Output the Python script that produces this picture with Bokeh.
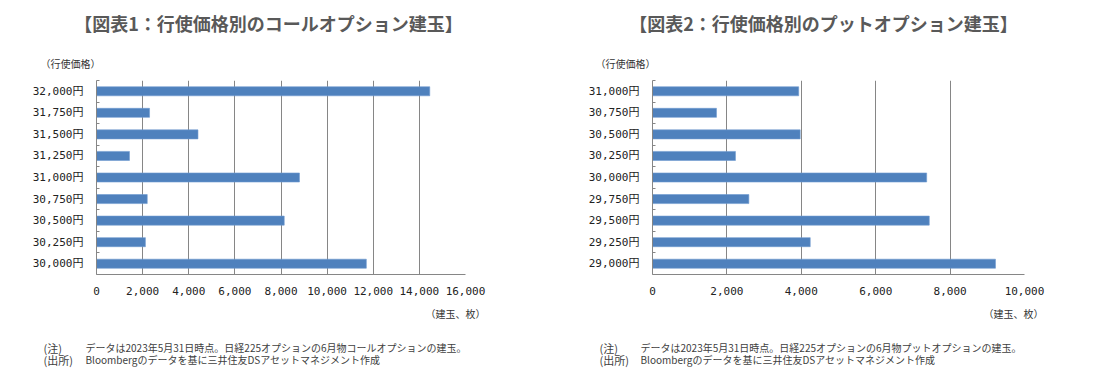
from bokeh.plotting import figure
from bokeh.models import FixedTicker, NumeralTickFormatter, Range1d
from bokeh.layouts import row, column
from bokeh.core.properties import value
from bokeh.embed import file_html
from bokeh.resources import INLINE

# ---- data (bottom to top) ----
call_strikes = ["30,000円", "30,250円", "30,500円", "30,750円", "31,000円",
                "31,250円", "31,500円", "31,750円", "32,000円"]
call_oi = [11700, 2120, 8140, 2200, 8800, 1430, 4400, 2300, 14450]
call_x_ticks = [0, 2000, 4000, 6000, 8000, 10000, 12000, 14000, 16000]

put_strikes = ["29,000円", "29,250円", "29,500円", "29,750円", "30,000円",
               "30,250円", "30,500円", "30,750円", "31,000円"]
put_oi = [9220, 4240, 7440, 2590, 7370, 2230, 3970, 1720, 3930]
put_x_ticks = [0, 2000, 4000, 6000, 8000, 10000]

titles = ["【図表1：行使価格別のコールオプション建玉】",
          "【図表2：行使価格別のプットオプション建玉】"]
y_axis_label = "（行使価格）"
x_axis_label = "（建玉、枚）"
note_heads = ["(注)", "(出所)"]
call_notes = ["データは2023年5月31日時点。日経225オプションの6月物コールオプションの建玉。",
              "Bloombergのデータを基に三井住友DSアセットマネジメント作成"]
put_notes = ["データは2023年5月31日時点。日経225オプションの6月物プットオプションの建玉。",
             "Bloombergのデータを基に三井住友DSアセットマネジメント作成"]

JP = "Noto Sans CJK JP"
MONO = "DejaVu Sans Mono, Noto Sans CJK JP"
GRID = "#868686"
BAR = "#4F81BD"
W, H = 1118, 381
TOP_H, CHART_H = 72, 230
BOT_H = H - TOP_H - CHART_H


def text_fig(height, y_top):
    f = figure(width=W, height=height, output_backend="svg", toolbar_location=None,
               x_range=Range1d(0, W), y_range=Range1d(y_top + height, y_top),
               x_axis_type=None, y_axis_type=None, min_border=0)
    f.outline_line_color = None
    f.grid.visible = False
    return f


def put_text(f, x, y, txt, size, align="left", bold=False, color="#404040"):
    f.text(x=[x], y=[y], text=[txt], text_font=value(JP), text_font_size=value(size),
           text_align=align, text_baseline="middle",
           text_font_style="bold" if bold else "normal", text_color=color)


def chart(strikes, values, x_ticks, border_left, border_right):
    n = len(strikes)
    centers = [i + 0.5 for i in range(n)]
    bounds = [float(i) for i in range(n + 1)]
    p = figure(width=559, height=CHART_H, output_backend="svg", toolbar_location=None,
               x_range=Range1d(x_ticks[0], x_ticks[-1]), y_range=Range1d(0, n),
               min_border_left=border_left, min_border_right=border_right,
               min_border_top=8, min_border_bottom=28)
    p.outline_line_color = None
    p.hbar(y=centers, right=values, left=0, height=0.42,
           fill_color=BAR, line_color="#6E9AD0", line_width=0.6)

    p.xaxis.ticker = FixedTicker(ticks=x_ticks, minor_ticks=[])
    p.xaxis.formatter = NumeralTickFormatter(format="0,0")
    p.xaxis.axis_line_color = GRID
    p.xaxis.major_tick_line_color = None
    p.xaxis.major_tick_out = 0
    p.xaxis.major_tick_in = 0
    p.xaxis.minor_tick_line_color = None
    p.xaxis.major_label_standoff = 12
    p.xaxis.major_label_text_font = MONO
    p.xaxis.major_label_text_font_size = "11px"
    p.xaxis.major_label_text_color = "#222222"
    p.xgrid.ticker = FixedTicker(ticks=x_ticks)
    p.xgrid.grid_line_color = GRID
    p.ygrid.grid_line_color = None

    p.yaxis.ticker = FixedTicker(ticks=centers, minor_ticks=bounds)
    p.yaxis.major_label_overrides = {c: s for c, s in zip(centers, strikes)}
    p.yaxis.axis_line_color = GRID
    p.yaxis.major_tick_line_color = None
    p.yaxis.major_tick_out = 0
    p.yaxis.major_tick_in = 0
    p.yaxis.minor_tick_line_color = GRID
    p.yaxis.minor_tick_in = 3
    p.yaxis.minor_tick_out = 0
    p.yaxis.major_label_standoff = 13
    p.yaxis.major_label_text_font = MONO
    p.yaxis.major_label_text_font_size = "11px"
    p.yaxis.major_label_text_color = "#222222"
    return p


# top: titles and y-axis captions
top = text_fig(TOP_H, 0)
put_text(top, 268, 22, titles[0], "18px", align="center", bold=True, color="#595959")
put_text(top, 823, 22, titles[1], "18px", align="center", bold=True, color="#595959")
put_text(top, 40, 63, y_axis_label, "10px", color="#333333")
put_text(top, 595, 63, y_axis_label, "10px", color="#333333")

p1 = chart(call_strikes, call_oi, call_x_ticks, 96, 94)
p2 = chart(put_strikes, put_oi, put_x_ticks, 93, 94)

# bottom: x-axis captions and notes
bot = text_fig(BOT_H, TOP_H + CHART_H)
put_text(bot, 485, 313, x_axis_label, "10px", align="right", color="#333333")
put_text(bot, 1043, 313, x_axis_label, "10px", align="right", color="#333333")
for hx, tx, notes in ((43, 85, call_notes), (599, 640, put_notes)):
    put_text(bot, hx, 347, note_heads[0], "11px")
    put_text(bot, tx, 347, notes[0], "10px")
    put_text(bot, hx, 359, note_heads[1], "11px")
    put_text(bot, tx, 359, notes[1], "10px")

layout = column(top, row(p1, p2), bot)
open("out.html", "w").write(file_html(layout, INLINE))
